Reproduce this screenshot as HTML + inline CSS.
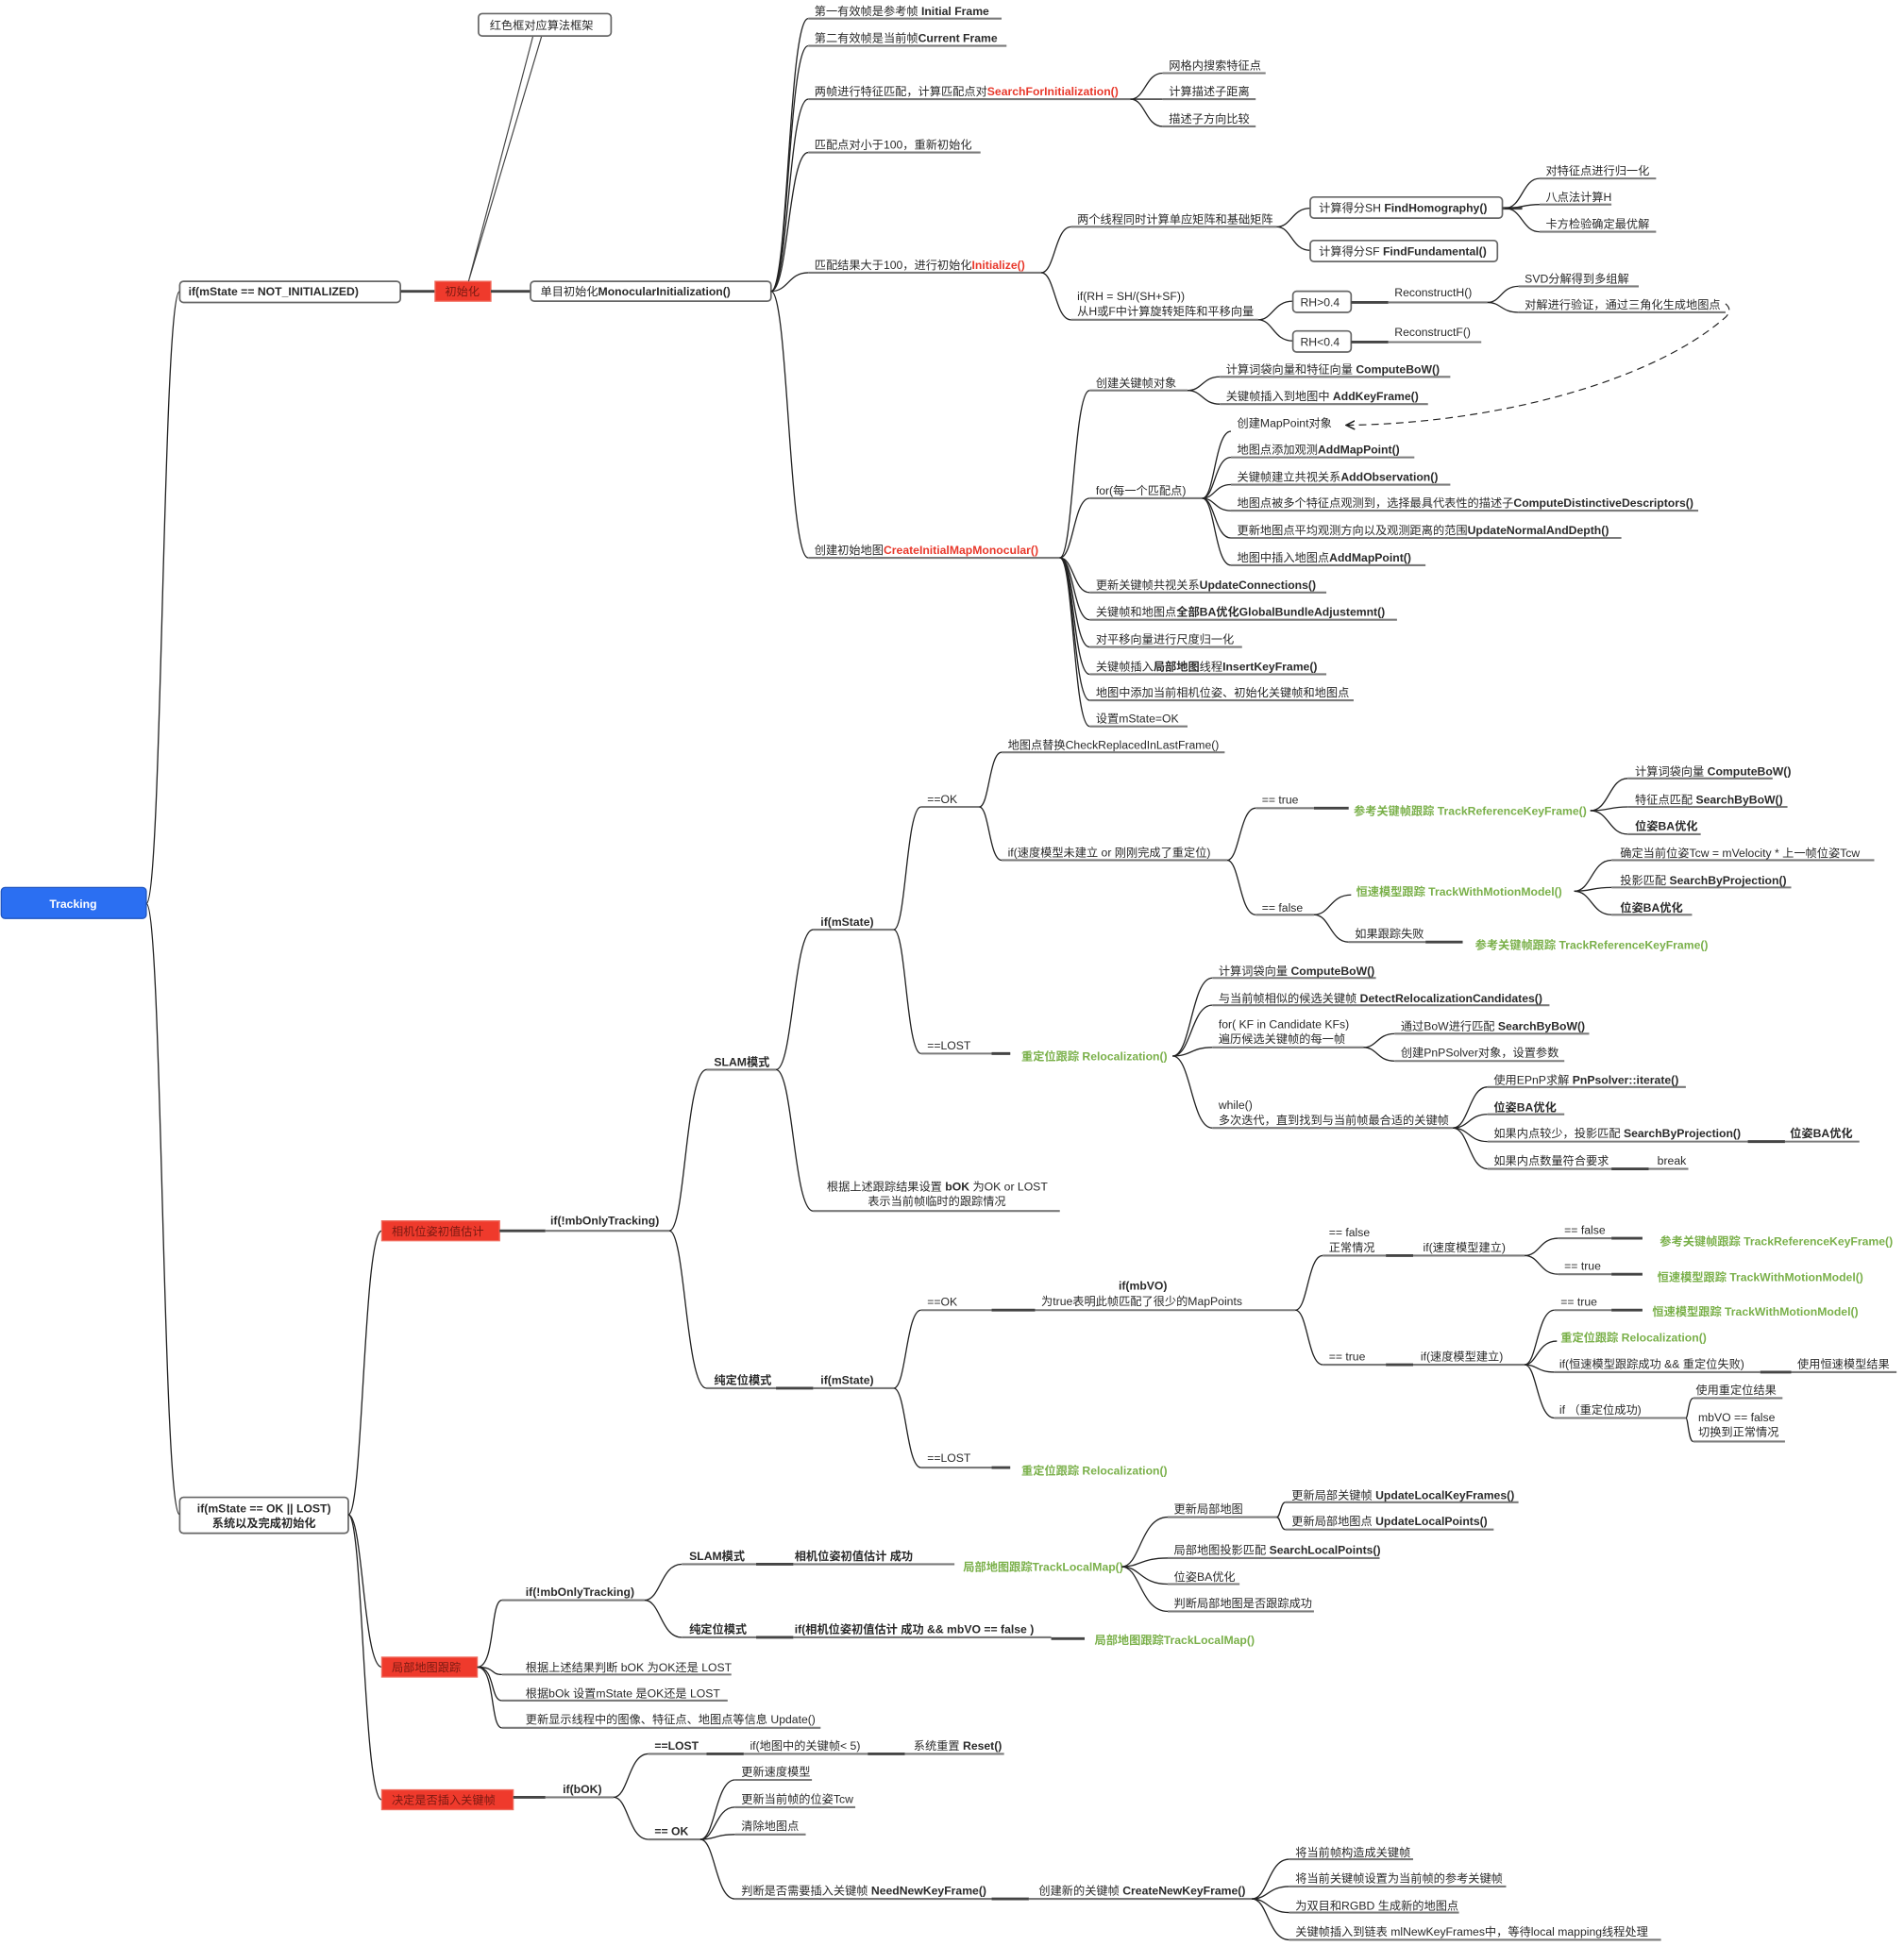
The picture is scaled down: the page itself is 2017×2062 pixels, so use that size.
<!DOCTYPE html>
<html><head><meta charset="utf-8">
<style>
html,body{margin:0;padding:0;background:#fff;}
svg{display:block;}
text{font-family:"Liberation Sans","Noto Sans CJK SC",sans-serif;font-size:9.3px;fill:#2a2a2a;}
.b{font-weight:bold;}
.r{fill:#e8382b;font-weight:bold;}
.g{fill:#7ab04a;font-weight:bold;}
.c{fill:none;stroke:#222;stroke-width:1;}
.u{stroke:#7a7a7a;stroke-width:1.6;}
.d{stroke:#444;stroke-width:2.2;}
.bx{fill:#fff;stroke:#666;stroke-width:1.3;}
.rb{fill:#ef3a2c;stroke:#f06a5c;stroke-width:1;}
.rt{fill:#7a1a12;font-size:9.3px;}
</style></head><body>
<svg width="2017" height="2062" viewBox="0 0 1536 1570" preserveAspectRatio="none" xmlns="http://www.w3.org/2000/svg">
<defs><marker id="ar" markerWidth="8" markerHeight="8" refX="7" refY="4" orient="auto" markerUnits="userSpaceOnUse"><path d="M0,0.5 L7,4 L0,7.5" fill="none" stroke="#222" stroke-width="1.2"/></marker></defs>

<!-- Root -->
<path class="c" d="M118 729 C131 729 131 235 145 235"/>
<path class="c" d="M118 729 C131 729 131 1222 145 1222"/>
<rect x="1" y="716" width="117" height="25" rx="3" fill="#2b6ff2" stroke="#1f55c0"/>
<text x="59" y="732.5" text-anchor="middle" class="b" style="fill:#fff">Tracking</text>

<!-- A branch -->
<rect class="bx" x="145" y="227" width="178" height="17" rx="3"/>
<text x="152" y="238.5" class="b">if(mState == NOT_INITIALIZED)</text>
<line class="d" x1="323" y1="235" x2="351" y2="235"/>
<rect class="rb" x="351" y="227" width="45" height="16"/>
<text x="359" y="238.5" class="rt">初始化</text>
<line class="d" x1="396" y1="235" x2="428" y2="235"/>
<rect class="bx" x="428" y="227" width="194" height="16" rx="3"/>
<text x="436" y="238.5">单目初始化<tspan class="b">MonocularInitialization()</tspan></text>
<path d="M430 29 L378 227 L437 29" fill="#fff" stroke="#444" stroke-width="0.9"/>
<rect class="bx" x="386" y="11" width="107" height="18" rx="3"/>
<text x="395" y="23.5">红色框对应算法框架</text>

<!-- mono children -->
<g>
<path class="c" d="M622 235 C636 235 636 15 652 15"/><line class="u" x1="652" y1="15" x2="808" y2="15"/><text x="657" y="12">第一有效帧是参考帧 <tspan class="b">Initial Frame</tspan></text>
<path class="c" d="M622 235 C636 235 636 37 652 37"/><line class="u" x1="652" y1="37" x2="812" y2="37"/><text x="657" y="34">第二有效帧是当前帧<tspan class="b">Current Frame</tspan></text>
<path class="c" d="M622 235 C636 235 636 80 652 80"/><line class="u" x1="652" y1="80" x2="912" y2="80"/><text x="657" y="77">两帧进行特征匹配，计算匹配点对<tspan class="r">SearchForInitialization()</tspan></text>
<path class="c" d="M622 235 C636 235 636 123 652 123"/><line class="u" x1="652" y1="123" x2="791" y2="123"/><text x="657" y="120">匹配点对小于100，重新初始化</text>
<path class="c" d="M622 235 C636 235 636 220 652 220"/><line class="u" x1="652" y1="220" x2="840" y2="220"/><text x="657" y="217">匹配结果大于100，进行初始化<tspan class="r">Initialize()</tspan></text>
<path class="c" d="M622 235 C636 235 636 450 652 450"/><line class="u" x1="652" y1="450" x2="855" y2="450"/><text x="657" y="447">创建初始地图<tspan class="r">CreateInitialMapMonocular()</tspan></text>
</g>
<g>
<path class="c" d="M912 80 C924 80 924 59 938 59"/><line class="u" x1="938" y1="59" x2="1021" y2="59"/><text x="943" y="56">网格内搜索特征点</text>
<path class="c" d="M912 80 C924 80 924 80 938 80"/><line class="u" x1="938" y1="80" x2="1013" y2="80"/><text x="943" y="77">计算描述子距离</text>
<path class="c" d="M912 80 C924 80 924 102 938 102"/><line class="u" x1="938" y1="102" x2="1013" y2="102"/><text x="943" y="99">描述子方向比较</text>
</g>
<g>
<path class="c" d="M840 220 C851 220 851 183 864 183"/><line class="u" x1="864" y1="183" x2="1030" y2="183"/><text x="869" y="180">两个线程同时计算单应矩阵和基础矩阵</text>
<path class="c" d="M840 220 C851 220 851 258 864 258"/><line class="u" x1="864" y1="258" x2="1015" y2="258"/><text x="869" y="242">if(RH = SH/(SH+SF))</text><text x="869" y="254.5">从H或F中计算旋转矩阵和平移向量</text>
<path class="c" d="M1030 183 C1042 183 1042 168 1057 168"/><path class="c" d="M1030 183 C1042 183 1042 202 1057 202"/>
<rect class="bx" x="1057" y="159" width="155" height="17" rx="3"/><text x="1064" y="171">计算得分SH <tspan class="b">FindHomography()</tspan></text>
<rect class="bx" x="1057" y="194" width="151" height="17" rx="3"/><text x="1064" y="206">计算得分SF <tspan class="b">FindFundamental()</tspan></text>
<line class="d" x1="1212" y1="168" x2="1228" y2="168"/>
<path class="c" d="M1214 168 C1228 168 1228 144 1242 144"/><line class="u" x1="1242" y1="144" x2="1336" y2="144"/><text x="1247" y="141">对特征点进行归一化</text>
<path class="c" d="M1214 168 C1228 168 1228 165 1242 165"/><line class="u" x1="1242" y1="165" x2="1300" y2="165"/><text x="1247" y="162">八点法计算H</text>
<path class="c" d="M1214 168 C1228 168 1228 187 1242 187"/><line class="u" x1="1242" y1="187" x2="1336" y2="187"/><text x="1247" y="184">卡方检验确定最优解</text>
<path class="c" d="M1015 258 C1027 258 1027 243 1043 243"/><path class="c" d="M1015 258 C1027 258 1027 275 1043 275"/>
<rect class="bx" x="1043" y="235" width="47" height="17" rx="3"/><text x="1049" y="247">RH&gt;0.4</text>
<rect class="bx" x="1043" y="267" width="47" height="17" rx="3"/><text x="1049" y="279">RH&lt;0.4</text>
<line class="d" x1="1090" y1="244" x2="1120" y2="244"/><line class="u" x1="1120" y1="244" x2="1200" y2="244"/><text x="1125" y="239">ReconstructH()</text>
<line class="d" x1="1090" y1="276" x2="1120" y2="276"/><line class="u" x1="1120" y1="276" x2="1195" y2="276"/><text x="1125" y="271">ReconstructF()</text>
<path class="c" d="M1200 244 C1211 244 1211 231 1225 231"/><line class="u" x1="1225" y1="231" x2="1322" y2="231"/><text x="1230" y="228">SVD分解得到多组解</text>
<path class="c" d="M1200 244 C1211 244 1211 252 1225 252"/><line class="u" x1="1225" y1="252" x2="1392" y2="252"/><text x="1230" y="249">对解进行验证，通过三角化生成地图点</text>
<path d="M1392 245 Q1398 250 1392 256 C1330 310 1200 342 1086 343" fill="none" stroke="#222" stroke-width="0.9" stroke-dasharray="6,4" marker-end="url(#ar)"/>
</g>
<g>
<path class="c" d="M855 450 C866 450 866 315 879 315"/><line class="u" x1="879" y1="315" x2="958" y2="315"/><text x="884" y="312">创建关键帧对象</text>
<path class="c" d="M855 450 C866 450 866 402 879 402"/><line class="u" x1="879" y1="402" x2="970" y2="402"/><text x="884" y="399">for(每一个匹配点)</text>
<path class="c" d="M855 450 C866 450 866 478 879 478"/><line class="u" x1="879" y1="478" x2="1070" y2="478"/><text x="884" y="475">更新关键帧共视关系<tspan class="b">UpdateConnections()</tspan></text>
<path class="c" d="M855 450 C866 450 866 500 879 500"/><line class="u" x1="879" y1="500" x2="1127" y2="500"/><text x="884" y="497">关键帧和地图点<tspan class="b">全部BA优化GlobalBundleAdjustemnt()</tspan></text>
<path class="c" d="M855 450 C866 450 866 522 879 522"/><line class="u" x1="879" y1="522" x2="1002" y2="522"/><text x="884" y="519">对平移向量进行尺度归一化</text>
<path class="c" d="M855 450 C866 450 866 544 879 544"/><line class="u" x1="879" y1="544" x2="1070" y2="544"/><text x="884" y="541">关键帧插入<tspan class="b">局部地图</tspan>线程<tspan class="b">InsertKeyFrame()</tspan></text>
<path class="c" d="M855 450 C866 450 866 565 879 565"/><line class="u" x1="879" y1="565" x2="1092" y2="565"/><text x="884" y="562">地图中添加当前相机位姿、初始化关键帧和地图点</text>
<path class="c" d="M855 450 C866 450 866 586 879 586"/><line class="u" x1="879" y1="586" x2="958" y2="586"/><text x="884" y="583">设置mState=OK</text>
<path class="c" d="M958 315 C970 315 970 304 984 304"/><line class="u" x1="984" y1="304" x2="1170" y2="304"/><text x="989" y="301">计算词袋向量和特征向量 <tspan class="b">ComputeBoW()</tspan></text>
<path class="c" d="M958 315 C970 315 970 326 984 326"/><line class="u" x1="984" y1="326" x2="1152" y2="326"/><text x="989" y="323">关键帧插入到地图中 <tspan class="b">AddKeyFrame()</tspan></text>
<path class="c" d="M970 402 C980 402 980 348 993 348"/><text x="998" y="344.5">创建MapPoint对象</text>
<path class="c" d="M970 402 C980 402 980 369 993 369"/><line class="u" x1="993" y1="369" x2="1141" y2="369"/><text x="998" y="366">地图点添加观测<tspan class="b">AddMapPoint()</tspan></text>
<path class="c" d="M970 402 C980 402 980 391 993 391"/><line class="u" x1="993" y1="391" x2="1170" y2="391"/><text x="998" y="388">关键帧建立共视关系<tspan class="b">AddObservation()</tspan></text>
<path class="c" d="M970 402 C980 402 980 412 993 412"/><line class="u" x1="993" y1="412" x2="1370" y2="412"/><text x="998" y="409">地图点被多个特征点观测到，选择最具代表性的描述子<tspan class="b">ComputeDistinctiveDescriptors()</tspan></text>
<path class="c" d="M970 402 C980 402 980 434 993 434"/><line class="u" x1="993" y1="434" x2="1308" y2="434"/><text x="998" y="431">更新地图点平均观测方向以及观测距离的范围<tspan class="b">UpdateNormalAndDepth()</tspan></text>
<path class="c" d="M970 402 C980 402 980 456 993 456"/><line class="u" x1="993" y1="456" x2="1150" y2="456"/><text x="998" y="453">地图中插入地图点<tspan class="b">AddMapPoint()</tspan></text>
</g>

<!-- B branch -->
<rect class="bx" x="145" y="1208" width="136" height="29" rx="3"/>
<text x="213" y="1220" text-anchor="middle" class="b">if(mState == OK || LOST)</text>
<text x="213" y="1232" text-anchor="middle" class="b">系统以及完成初始化</text>
<path class="c" d="M281 1222 C293 1222 293 993 308 993"/>
<path class="c" d="M281 1222 C293 1222 293 1345 308 1345"/>
<path class="c" d="M281 1222 C293 1222 293 1452 308 1452"/>
<rect class="rb" x="308" y="985" width="95" height="16"/><text x="316" y="996.5" class="rt">相机位姿初值估计</text>
<rect class="rb" x="308" y="1337" width="77" height="16"/><text x="316" y="1348.5" class="rt">局部地图跟踪</text>
<rect class="rb" x="308" y="1444" width="106" height="16"/><text x="316" y="1455.5" class="rt">决定是否插入关键帧</text>

<g>
<line class="d" x1="403" y1="993" x2="440" y2="993"/><line class="u" x1="440" y1="993" x2="540" y2="993"/><text x="444" y="988" class="b">if(!mbOnlyTracking)</text>
<path class="c" d="M540 993 C553 993 553 863 570 863"/><line class="u" x1="570" y1="863" x2="626" y2="863"/><text x="576" y="860" class="b">SLAM模式</text>
<path class="c" d="M540 993 C553 993 553 1120 570 1120"/><line class="u" x1="570" y1="1120" x2="626" y2="1120"/><text x="576" y="1116.5" class="b">纯定位模式</text>
<path class="c" d="M626 863 C640 863 640 750 656 750"/><line class="u" x1="656" y1="750" x2="721" y2="750"/><text x="662" y="747" class="b">if(mState)</text>
<path class="c" d="M626 863 C640 863 640 977 656 977"/><line class="u" x1="656" y1="977" x2="855" y2="977"/><text x="667" y="960.5">根据上述跟踪结果设置 <tspan class="b">bOK</tspan> 为OK or LOST</text><text x="700" y="972.5">表示当前帧临时的跟踪情况</text>
<path class="c" d="M721 750 C731 750 731 651 743 651"/><line class="u" x1="743" y1="651" x2="790" y2="651"/><text x="748" y="648">==OK</text>
<path class="c" d="M721 750 C731 750 731 850 743 850"/><line class="u" x1="743" y1="850" x2="815" y2="850"/><text x="748" y="846.5">==LOST</text>
<path class="c" d="M790 651 C798 651 798 607 808 607"/><line class="u" x1="808" y1="607" x2="988" y2="607"/><text x="813" y="604">地图点替换CheckReplacedInLastFrame()</text>
<path class="c" d="M790 651 C798 651 798 694 808 694"/><line class="u" x1="808" y1="694" x2="990" y2="694"/><text x="813" y="691">if(速度模型未建立 or 刚刚完成了重定位)</text>
<path class="c" d="M990 694 C1000 694 1000 652 1013 652"/><line class="u" x1="1013" y1="652" x2="1060" y2="652"/><line class="d" x1="1060" y1="652" x2="1088" y2="652"/><text x="1018" y="648.5">== true</text>
<text x="1092" y="657.5" class="g">参考关键帧跟踪 TrackReferenceKeyFrame()</text>
<path class="c" d="M990 694 C1000 694 1000 738 1013 738"/><line class="u" x1="1013" y1="738" x2="1060" y2="738"/><text x="1018" y="735.5">== false</text>
<path class="c" d="M1060 738 C1073 738 1073 722 1090 722"/><text x="1094" y="722.5" class="g">恒速模型跟踪 TrackWithMotionModel()</text>
<path class="c" d="M1060 738 C1073 738 1073 760 1088 760"/><line class="u" x1="1088" y1="760" x2="1150" y2="760"/><line class="d" x1="1150" y1="760" x2="1180" y2="760"/><text x="1093" y="756.5">如果跟踪失败</text>
<text x="1190" y="765.5" class="g">参考关键帧跟踪 TrackReferenceKeyFrame()</text>
<path class="c" d="M1283 654 C1298 654 1298 628 1313 628"/><line class="u" x1="1313" y1="628" x2="1430" y2="628"/><text x="1319" y="625.5">计算词袋向量 <tspan class="b">ComputeBoW()</tspan></text>
<path class="c" d="M1283 654 C1298 654 1298 651 1313 651"/><line class="u" x1="1313" y1="651" x2="1442" y2="651"/><text x="1319" y="648.5">特征点匹配 <tspan class="b">SearchByBoW()</tspan></text>
<path class="c" d="M1283 654 C1298 654 1298 673 1313 673"/><line class="u" x1="1313" y1="673" x2="1372" y2="673"/><text x="1319" y="669.5" class="b">位姿BA优化</text>
<path class="c" d="M1270 719 C1284 719 1284 694 1300 694"/><line class="u" x1="1300" y1="694" x2="1512" y2="694"/><text x="1307" y="691.5">确定当前位姿Tcw = mVelocity * 上一帧位姿Tcw</text>
<path class="c" d="M1270 719 C1284 719 1284 716 1300 716"/><line class="u" x1="1300" y1="716" x2="1445" y2="716"/><text x="1307" y="713.5">投影匹配 <tspan class="b">SearchByProjection()</tspan></text>
<path class="c" d="M1270 719 C1284 719 1284 738 1300 738"/><line class="u" x1="1300" y1="738" x2="1365" y2="738"/><text x="1307" y="735.5" class="b">位姿BA优化</text>
<line class="d" x1="800" y1="850" x2="815" y2="850"/>
<text x="824" y="855.5" class="g">重定位跟踪 Relocalization()</text>
<path class="c" d="M946 852 C961 852 961 789 978 789"/><line class="u" x1="978" y1="789" x2="1110" y2="789"/><text x="983" y="786.5">计算词袋向量 <tspan class="b">ComputeBoW()</tspan></text>
<path class="c" d="M946 852 C961 852 961 811 978 811"/><line class="u" x1="978" y1="811" x2="1250" y2="811"/><text x="983" y="808.5">与当前帧相似的候选关键帧 <tspan class="b">DetectRelocalizationCandidates()</tspan></text>
<path class="c" d="M946 852 C961 852 961 845 978 845"/><line class="u" x1="978" y1="845" x2="1100" y2="845"/><text x="983" y="829.5">for( KF in Candidate KFs)</text><text x="983" y="841.5">遍历候选关键帧的每一帧</text>
<path class="c" d="M946 852 C961 852 961 910 978 910"/><line class="u" x1="978" y1="910" x2="1172" y2="910"/><text x="983" y="894.5">while()</text><text x="983" y="907">多次迭代，直到找到与当前帧最合适的关键帧</text>
<path class="c" d="M1100 845 C1111 845 1111 834 1125 834"/><line class="u" x1="1125" y1="834" x2="1282" y2="834"/><text x="1130" y="831">通过BoW进行匹配 <tspan class="b">SearchByBoW()</tspan></text>
<path class="c" d="M1100 845 C1111 845 1111 856 1125 856"/><line class="u" x1="1125" y1="856" x2="1262" y2="856"/><text x="1130" y="852.5">创建PnPSolver对象，设置参数</text>
<path class="c" d="M1172 910 C1185 910 1185 877 1200 877"/><line class="u" x1="1200" y1="877" x2="1360" y2="877"/><text x="1205" y="874.5">使用EPnP求解 <tspan class="b">PnPsolver::iterate()</tspan></text>
<path class="c" d="M1172 910 C1185 910 1185 899 1200 899"/><line class="u" x1="1200" y1="899" x2="1262" y2="899"/><text x="1205" y="896.5" class="b">位姿BA优化</text>
<path class="c" d="M1172 910 C1185 910 1185 921 1200 921"/><line class="u" x1="1200" y1="921" x2="1410" y2="921"/><line class="d" x1="1410" y1="921" x2="1440" y2="921"/><line class="u" x1="1440" y1="921" x2="1500" y2="921"/><text x="1205" y="917.5">如果内点较少，投影匹配 <tspan class="b">SearchByProjection()</tspan></text><text x="1444" y="917.5" class="b">位姿BA优化</text>
<path class="c" d="M1172 910 C1185 910 1185 943 1200 943"/><line class="u" x1="1200" y1="943" x2="1300" y2="943"/><line class="d" x1="1300" y1="943" x2="1330" y2="943"/><line class="u" x1="1330" y1="943" x2="1362" y2="943"/><text x="1205" y="939.5">如果内点数量符合要求</text><text x="1337" y="939.5">break</text>
</g>

<g>
<line class="d" x1="626" y1="1120" x2="656" y2="1120"/><line class="u" x1="656" y1="1120" x2="721" y2="1120"/><text x="662" y="1116.5" class="b">if(mState)</text>
<path class="c" d="M721 1120 C731 1120 731 1057 743 1057"/><line class="u" x1="743" y1="1057" x2="800" y2="1057"/><line class="d" x1="800" y1="1057" x2="835" y2="1057"/><line class="u" x1="835" y1="1057" x2="1045" y2="1057"/><text x="748" y="1053.5">==OK</text>
<text x="922" y="1040.5" text-anchor="middle" class="b">if(mbVO)</text><text x="840" y="1053">为true表明此帧匹配了很少的MapPoints</text>
<path class="c" d="M721 1120 C731 1120 731 1184 743 1184"/><line class="u" x1="743" y1="1184" x2="800" y2="1184"/><line class="d" x1="800" y1="1184" x2="815" y2="1184"/><text x="748" y="1179.5">==LOST</text>
<text x="824" y="1189.5" class="g">重定位跟踪 Relocalization()</text>
<path class="c" d="M1045 1057 C1055 1057 1055 1013 1067 1013"/><line class="u" x1="1067" y1="1013" x2="1118" y2="1013"/><line class="d" x1="1118" y1="1013" x2="1140" y2="1013"/><line class="u" x1="1140" y1="1013" x2="1230" y2="1013"/><text x="1072" y="997.5">== false</text><text x="1072" y="1009.5">正常情况</text><text x="1148" y="1009.5">if(速度模型建立)</text>
<path class="c" d="M1045 1057 C1055 1057 1055 1101 1067 1101"/><line class="u" x1="1067" y1="1101" x2="1118" y2="1101"/><line class="d" x1="1118" y1="1101" x2="1140" y2="1101"/><line class="u" x1="1140" y1="1101" x2="1230" y2="1101"/><text x="1072" y="1097.5">== true</text><text x="1146" y="1097.5">if(速度模型建立)</text>
<path class="c" d="M1230 1013 C1242 1013 1242 999 1257 999"/><line class="u" x1="1257" y1="999" x2="1300" y2="999"/><line class="d" x1="1300" y1="999" x2="1325" y2="999"/><text x="1262" y="995.5">== false</text><text x="1339" y="1004.5" class="g">参考关键帧跟踪 TrackReferenceKeyFrame()</text>
<path class="c" d="M1230 1013 C1242 1013 1242 1028 1257 1028"/><line class="u" x1="1257" y1="1028" x2="1300" y2="1028"/><line class="d" x1="1300" y1="1028" x2="1325" y2="1028"/><text x="1262" y="1024.5">== true</text><text x="1337" y="1033.5" class="g">恒速模型跟踪 TrackWithMotionModel()</text>
<path class="c" d="M1230 1101 C1240 1101 1240 1057 1254 1057"/><line class="u" x1="1254" y1="1057" x2="1300" y2="1057"/><line class="d" x1="1300" y1="1057" x2="1325" y2="1057"/><text x="1259" y="1053.5">== true</text><text x="1333" y="1061.5" class="g">恒速模型跟踪 TrackWithMotionModel()</text>
<path class="c" d="M1230 1101 C1240 1101 1240 1082 1256 1082"/><text x="1259" y="1082.5" class="g">重定位跟踪 Relocalization()</text>
<path class="c" d="M1230 1101 C1240 1101 1240 1107 1254 1107"/><line class="u" x1="1254" y1="1107" x2="1420" y2="1107"/><line class="d" x1="1420" y1="1107" x2="1445" y2="1107"/><line class="u" x1="1445" y1="1107" x2="1530" y2="1107"/><text x="1258" y="1103.5">if(恒速模型跟踪成功 &amp;&amp; 重定位失败)</text><text x="1450" y="1103.5">使用恒速模型结果</text>
<path class="c" d="M1230 1101 C1240 1101 1240 1144 1254 1144"/><line class="u" x1="1254" y1="1144" x2="1360" y2="1144"/><text x="1258" y="1140.5">if （重定位成功)</text>
<path class="c" d="M1360 1144 C1362 1144 1362 1128 1366 1128"/><line class="u" x1="1366" y1="1128" x2="1438" y2="1128"/><text x="1368" y="1124.5">使用重定位结果</text>
<path class="c" d="M1360 1144 C1362 1144 1362 1163 1366 1163"/><line class="u" x1="1366" y1="1163" x2="1440" y2="1163"/><text x="1370" y="1146.5">mbVO == false</text><text x="1370" y="1158.5">切换到正常情况</text>
</g>

<!-- local map -->
<g>
<path class="c" d="M385 1345 C400 1345 395 1291 405 1291"/><line class="u" x1="405" y1="1291" x2="520" y2="1291"/><text x="424" y="1287.5" class="b">if(!mbOnlyTracking)</text>
<path class="c" d="M385 1345 C400 1345 395 1351 405 1351"/><line class="u" x1="405" y1="1351" x2="590" y2="1351"/><text x="424" y="1348.5">根据上述结果判断 bOK 为OK还是 LOST</text>
<path class="c" d="M385 1345 C400 1345 395 1372 405 1372"/><line class="u" x1="405" y1="1372" x2="587" y2="1372"/><text x="424" y="1369.5">根据bOk 设置mState 是OK还是 LOST</text>
<path class="c" d="M385 1345 C400 1345 395 1394 405 1394"/><line class="u" x1="405" y1="1394" x2="662" y2="1394"/><text x="424" y="1390.5">更新显示线程中的图像、特征点、地图点等信息 Update()</text>
<path class="c" d="M520 1291 C533 1291 533 1262 550 1262"/><line class="u" x1="550" y1="1262" x2="610" y2="1262"/><line class="d" x1="610" y1="1262" x2="640" y2="1262"/><line class="u" x1="640" y1="1262" x2="770" y2="1262"/><text x="556" y="1258.5" class="b">SLAM模式</text><text x="641" y="1258.5" class="b">相机位姿初值估计 成功</text>
<text x="777" y="1267.5" class="g">局部地图跟踪TrackLocalMap()</text>
<path class="c" d="M520 1291 C533 1291 533 1321 550 1321"/><line class="u" x1="550" y1="1321" x2="610" y2="1321"/><line class="d" x1="610" y1="1321" x2="640" y2="1321"/><line class="u" x1="640" y1="1321" x2="848" y2="1321"/><line class="d" x1="848" y1="1322" x2="875" y2="1322"/><text x="556" y="1317.5" class="b">纯定位模式</text><text x="641" y="1317.5" class="b">if(相机位姿初值估计 成功 &amp;&amp; mbVO == false )</text>
<text x="883" y="1326.5" class="g">局部地图跟踪TrackLocalMap()</text>
<path class="c" d="M905 1264 C920 1264 920 1224 942 1224"/><line class="u" x1="942" y1="1224" x2="1030" y2="1224"/><text x="947" y="1220.5">更新局部地图</text>
<path class="c" d="M905 1264 C920 1264 920 1257 942 1257"/><line class="u" x1="942" y1="1257" x2="1113" y2="1257"/><text x="947" y="1253.5">局部地图投影匹配 <tspan class="b">SearchLocalPoints()</tspan></text>
<path class="c" d="M905 1264 C920 1264 920 1278 942 1278"/><line class="u" x1="942" y1="1278" x2="1000" y2="1278"/><text x="947" y="1275.5">位姿BA优化</text>
<path class="c" d="M905 1264 C920 1264 920 1300 942 1300"/><line class="u" x1="942" y1="1300" x2="1060" y2="1300"/><text x="947" y="1296.5">判断局部地图是否跟踪成功</text>
<path class="c" d="M1030 1224 C1033 1224 1033 1212 1037 1212"/><line class="u" x1="1037" y1="1212" x2="1225" y2="1212"/><text x="1042" y="1209.5">更新局部关键帧 <tspan class="b">UpdateLocalKeyFrames()</tspan></text>
<path class="c" d="M1030 1224 C1033 1224 1033 1234 1037 1234"/><line class="u" x1="1037" y1="1234" x2="1205" y2="1234"/><text x="1042" y="1230.5">更新局部地图点 <tspan class="b">UpdateLocalPoints()</tspan></text>
</g>

<!-- keyframe decision -->
<g>
<line class="d" x1="414" y1="1450" x2="440" y2="1450"/><line class="u" x1="440" y1="1450" x2="495" y2="1450"/><text x="454" y="1446.5" class="b">if(bOK)</text>
<path class="c" d="M495 1450 C507 1450 507 1415 523 1415"/><line class="u" x1="523" y1="1415" x2="570" y2="1415"/><line class="d" x1="570" y1="1415" x2="600" y2="1415"/><line class="u" x1="600" y1="1415" x2="700" y2="1415"/><line class="d" x1="700" y1="1415" x2="730" y2="1415"/><line class="u" x1="730" y1="1415" x2="810" y2="1415"/><text x="528" y="1411.5" class="b">==LOST</text><text x="605" y="1411.5">if(地图中的关键帧&lt; 5)</text><text x="737" y="1411.5">系统重置 <tspan class="b">Reset()</tspan></text>
<path class="c" d="M495 1450 C507 1450 507 1484 523 1484"/><line class="u" x1="523" y1="1484" x2="565" y2="1484"/><text x="528" y="1480.5" class="b">== OK</text>
<path class="c" d="M565 1484 C577 1484 577 1436 593 1436"/><line class="u" x1="593" y1="1436" x2="655" y2="1436"/><text x="598" y="1432.5">更新速度模型</text>
<path class="c" d="M565 1484 C577 1484 577 1458 593 1458"/><line class="u" x1="593" y1="1458" x2="690" y2="1458"/><text x="598" y="1454.5">更新当前帧的位姿Tcw</text>
<path class="c" d="M565 1484 C577 1484 577 1480 593 1480"/><line class="u" x1="593" y1="1480" x2="650" y2="1480"/><text x="598" y="1476.5">清除地图点</text>
<path class="c" d="M565 1484 C577 1484 577 1532 593 1532"/><line class="u" x1="593" y1="1532" x2="800" y2="1532"/><line class="d" x1="800" y1="1532" x2="830" y2="1532"/><line class="u" x1="830" y1="1532" x2="1010" y2="1532"/><text x="598" y="1528.5">判断是否需要插入关键帧 <tspan class="b">NeedNewKeyFrame()</tspan></text><text x="838" y="1528.5">创建新的关键帧 <tspan class="b">CreateNewKeyFrame()</tspan></text>
<path class="c" d="M1010 1532 C1023 1532 1023 1500 1040 1500"/><line class="u" x1="1040" y1="1500" x2="1140" y2="1500"/><text x="1045" y="1497.5">将当前帧构造成关键帧</text>
<path class="c" d="M1010 1532 C1023 1532 1023 1522 1040 1522"/><line class="u" x1="1040" y1="1522" x2="1215" y2="1522"/><text x="1045" y="1518.5">将当前关键帧设置为当前帧的参考关键帧</text>
<path class="c" d="M1010 1532 C1023 1532 1023 1543 1040 1543"/><line class="u" x1="1040" y1="1543" x2="1177" y2="1543"/><text x="1045" y="1540.5">为双目和RGBD 生成新的地图点</text>
<path class="c" d="M1010 1532 C1023 1532 1023 1565 1040 1565"/><line class="u" x1="1040" y1="1565" x2="1340" y2="1565"/><text x="1045" y="1561.5">关键帧插入到链表 mlNewKeyFrames中，等待local mapping线程处理</text>
</g>
</svg>
</body></html>
